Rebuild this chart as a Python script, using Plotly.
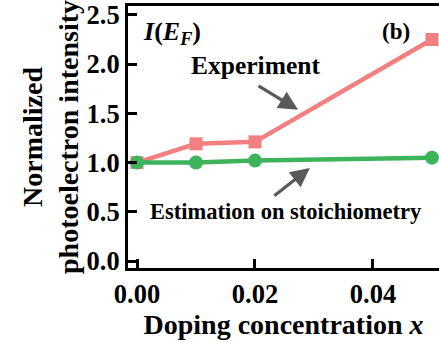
import plotly.graph_objects as go

x_doping = [0.0, 0.01, 0.02, 0.05]
experiment = [1.0, 1.19, 1.21, 2.25]
estimation = [1.0, 1.0, 1.02, 1.05]

x_ticks = [0.0, 0.02, 0.04]
x_ticklabels = ["0.00", "0.02", "0.04"]
y_ticks = [0.0, 0.5, 1.0, 1.5, 2.0, 2.5]
y_ticklabels = ["0.0", "0.5", "1.0", "1.5", "2.0", "2.5"]

RED = "#F28080"
GREEN = "#3DB35C"
ARROW = "#595959"
FONT = "Liberation Serif"

fig = go.Figure()
fig.add_trace(go.Scatter(x=x_doping, y=experiment, mode="lines+markers",
                         line=dict(color=RED, width=4.5),
                         marker=dict(symbol="square", size=13, color=RED),
                         cliponaxis=False, showlegend=False))
fig.add_trace(go.Scatter(x=x_doping, y=estimation, mode="lines+markers",
                         line=dict(color=GREEN, width=4.5),
                         marker=dict(symbol="circle", size=14, color=GREEN),
                         cliponaxis=False, showlegend=False))

ann = []
ann.append(dict(x=0.0007, y=2.32, xref="x", yref="y", xanchor="left", yanchor="middle",
                text="<b><i>I</i>(<i>E<sub>F</sub></i>)</b>", showarrow=False,
                font=dict(family=FONT, size=26, color="black")))
ann.append(dict(x=0.0439, y=2.33, xref="x", yref="y", xanchor="center", yanchor="middle",
                text="<b>(b)</b>", showarrow=False,
                font=dict(family=FONT, size=23, color="black")))
ann.append(dict(x=0.0088, y=1.99, xref="x", yref="y", xanchor="left", yanchor="middle",
                text="<b>Experiment</b>", showarrow=False,
                font=dict(family=FONT, size=25.5, color="black")))
ann.append(dict(x=0.0019, y=0.50, xref="x", yref="y", xanchor="left", yanchor="middle",
                text="<b>Estimation on stoichiometry</b>", showarrow=False,
                font=dict(family=FONT, size=22.5, color="black")))
ann.append(dict(x=0.0273, y=1.535, xref="x", yref="y", ax=-41, ay=-25,
                text="", showarrow=True, arrowhead=2, arrowsize=1.2, arrowwidth=3.2,
                arrowcolor=ARROW))
ann.append(dict(x=0.0293, y=0.945, xref="x", yref="y", ax=-37, ay=29,
                text="", showarrow=True, arrowhead=2, arrowsize=1.2, arrowwidth=3.2,
                arrowcolor=ARROW))

tickfont = dict(family=FONT, size=26.5, color="black", weight="bold")

fig.update_layout(
    width=439, height=342,
    margin=dict(l=128, r=0, t=6, b=74),
    paper_bgcolor="white", plot_bgcolor="white",
    font=dict(family=FONT, color="black"),
    annotations=ann,
    xaxis=dict(range=[-0.00153, 0.0512], tickvals=x_ticks, ticktext=x_ticklabels,
               automargin=False,
               showgrid=False, zeroline=False, showline=True, linecolor="black", linewidth=3,
               mirror=True, ticks="inside", ticklen=9, tickwidth=3, tickcolor="black",
               tickfont=tickfont,
               title=dict(text="<b>Doping concentration <i>x</i></b>",
                          font=dict(family=FONT, size=28, color="black"), standoff=0)),
    yaxis=dict(range=[-0.071, 2.59], tickvals=y_ticks, ticktext=y_ticklabels,
               automargin=False,
               showgrid=False, zeroline=False, showline=True, linecolor="black", linewidth=3,
               mirror=False, ticks="inside", ticklen=9, tickwidth=3, tickcolor="black",
               tickfont=tickfont,
               title=dict(text="<b>Normalized<br>photoelectron intensity</b>",
                          font=dict(family=FONT, size=28, color="black"), standoff=0)),
)

fig.write_html("out.html", config={"displayModeBar": False},
               post_script="document.body.style.margin='0';document.body.style.overflow='hidden';")
